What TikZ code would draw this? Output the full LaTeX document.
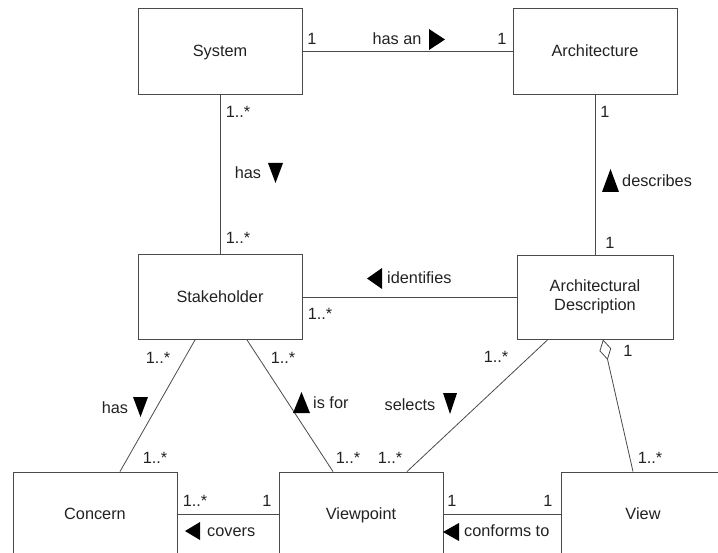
\documentclass[tikz,border=0pt]{standalone}
\usepackage{fontspec}
\setmainfont{Liberation Sans}
\usetikzlibrary{arrows.meta}
\definecolor{ink}{HTML}{222222}
\definecolor{edge}{HTML}{4A4A4A}
\begin{document}
\begin{tikzpicture}[x=1bp,y=-1bp,
  every node/.style={font=\fontsize{16.3bp}{19bp}\selectfont, text=ink},
  classbox/.style={draw=edge, line width=0.9bp, fill=white, inner sep=0pt,
    minimum width=164bp, minimum height=86bp, align=center},
  onelinebox/.style={classbox, text height=11.8bp, text depth=0pt},
  assoc/.style={draw=edge, line width=0.8bp},
  lbl/.style={inner sep=0pt, anchor=base},
  lblw/.style={inner sep=0pt, anchor=base west},
  dirmark/.style={fill=black}]
\clip (0,0) rectangle (718,553);

% classes
\node[onelinebox] (sys)  at (220,51)    {System};
\node[onelinebox] (arch) at (595,51)    {Architecture};
\node[onelinebox, minimum height=85bp] (stk) at (220,297) {Stakeholder};
\node[classbox, minimum width=156bp, minimum height=84bp] (ad) at (595,297)
  {Architectural\\[0pt]Description};
\node[onelinebox, minimum height=84bp] (con)  at (95,514)  {Concern};
\node[onelinebox, minimum height=84bp] (vp)   at (361,514) {Viewpoint};
\node[onelinebox, minimum height=84bp] (view) at (643,514) {View};

% associations
\draw[assoc] (sys.east) -- (arch.west);
\draw[assoc] (sys.south) -- (stk.north);
\draw[assoc] (arch.south) -- (ad.north);
\draw[assoc] (ad.west) -- (stk.east);
\draw[assoc] ([xshift=-25bp]stk.south) -- ([xshift=25bp]con.north);
\draw[assoc] ([xshift=27bp]stk.south) -- ([xshift=-28bp]vp.north);
\draw[assoc] ([xshift=-47bp]ad.south) -- ([xshift=46bp]vp.north);
\draw[assoc, {Diamond[open, length=21bp, width=12bp, line width=0.8bp]}-]
  ([xshift=8bp]ad.south) -- ([xshift=-10bp]view.north);
\draw[assoc] (con.east) -- (vp.west);
\draw[assoc] (vp.east) -- (view.west);

% System -- Architecture
\node[lbl] (m1) at (312,45) {1};
\node[lbl] (n1) at (397,45) {has an};
\fill[dirmark] (429,29) -- (445,39.5) -- (429,50) -- cycle;
\node[lbl] (m2) at (502,45) {1};

% System -- Stakeholder
\node[lbl] (m3) at (238,118) {1..*};
\node[lbl] (n2) at (248,179) {has};
\fill[dirmark] (268,163) -- (283,163) -- (275.5,183) -- cycle;
\node[lbl] (m4) at (238,244) {1..*};

% Architecture -- Architectural Description
\node[lbl] (m5) at (605,118) {1};
\fill[dirmark] (602,192) -- (619,192) -- (610.5,169) -- cycle;
\node[lblw] (n3) at (622,187) {describes};
\node[lbl] (m6) at (610,249) {1};

% Architectural Description -- Stakeholder
\fill[dirmark] (382,268) -- (382,289) -- (367,278.5) -- cycle;
\node[lblw] (n4) at (387,284) {identifies};
\node[lbl] (m7) at (320,319) {1..*};

% Stakeholder -- Concern / Viewpoint
\node[lbl] (m8) at (158,363) {1..*};
\node[lbl] (m9) at (283,363) {1..*};
\node[lbl] (n5) at (115,413) {has};
\fill[dirmark] (133,397) -- (148,397) -- (140.5,417) -- cycle;
\fill[dirmark] (293,413) -- (310,413) -- (301.5,392) -- cycle;
\node[lblw] (n6) at (313,408) {is for};
\node[lbl] (m10) at (155,463) {1..*};
\node[lbl] (m11) at (348,463) {1..*};

% Architectural Description -- Viewpoint / View
\node[lbl] (n7) at (410,410) {selects};
\fill[dirmark] (443,393) -- (457,393) -- (450,414) -- cycle;
\node[lbl] (m12) at (496,362) {1..*};
\node[lbl] (m13) at (628,356) {1};
\node[lbl] (m14) at (390,463) {1..*};
\node[lbl] (m15) at (650,463) {1..*};

% Concern -- Viewpoint
\node[lbl] (m16) at (195,506) {1..*};
\node[lbl] (m17) at (267,506) {1};
\fill[dirmark] (200,522) -- (200,540) -- (185,531) -- cycle;
\node[lblw] (n8) at (207,536) {covers};

% Viewpoint -- View
\node[lbl] (m18) at (452,506) {1};
\node[lbl] (m19) at (548,506) {1};
\fill[dirmark] (459,523) -- (459,541) -- (443,532) -- cycle;
\node[lblw] (n9) at (464,536) {conforms to};
\end{tikzpicture}
\end{document}
